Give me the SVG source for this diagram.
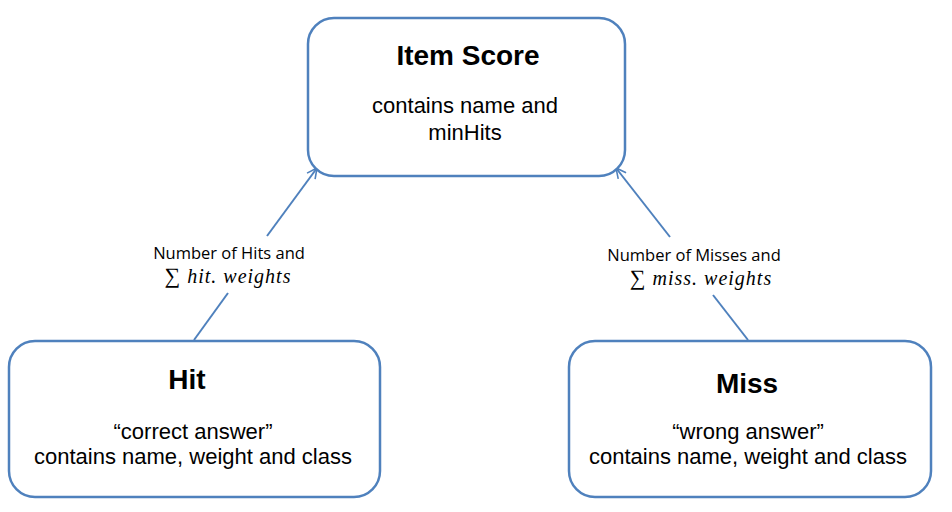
<svg xmlns="http://www.w3.org/2000/svg" width="952" height="512" viewBox="0 0 952 512">
<defs>
<marker id="arr" viewBox="0 0 12 12" refX="11" refY="6" markerWidth="12" markerHeight="12" markerUnits="userSpaceOnUse" orient="auto">
<path d="M1,1 L11,6 L1,11" fill="none" stroke="#4f81bd" stroke-width="1.6"/>
</marker>
<style>
.box{fill:#fff;stroke:#4f81bd;stroke-width:2.5}
.t{font-family:"Liberation Sans",Arial,sans-serif;font-weight:bold;font-size:28px;text-anchor:middle;fill:#000}
.b{font-family:"Liberation Sans",Arial,sans-serif;font-size:22px;text-anchor:middle;fill:#000}
.l{font-family:"Open Sans","Liberation Sans",sans-serif;font-size:16.5px;text-anchor:middle;fill:#000}
.m{font-family:"Liberation Serif","DejaVu Serif",serif;font-style:italic;font-size:20px;text-anchor:middle;fill:#000;letter-spacing:1px}
.c{stroke:#4f81bd;stroke-width:2;fill:none}
</style>
</defs>
<g id="connectors">
<line class="c" x1="194" y1="340" x2="228" y2="293"/>
<line class="c" x1="267" y1="236" x2="317" y2="168" marker-end="url(#arr)"/>
<line class="c" x1="748" y1="340" x2="713" y2="295"/>
<line class="c" x1="670" y1="237" x2="616" y2="168" marker-end="url(#arr)"/>
<text class="l" x="229" y="259">Number of Hits and</text>
<text class="m" x="228" y="283"><tspan font-style="normal" font-size="22">∑</tspan> hit. weights</text>
<text class="l" x="694" y="261">Number of Misses and</text>
<text class="m" x="701" y="285"><tspan font-style="normal" font-size="22">∑</tspan> miss. weights</text>
</g>
<g id="item-score">
<rect class="box" x="308" y="18" width="317" height="158" rx="26"/>
<text class="t" x="468" y="65">Item Score</text>
<text class="b" x="465" y="113">contains name and</text>
<text class="b" x="465" y="140">minHits</text>
</g>
<g id="hit">
<rect class="box" x="9" y="341" width="371" height="156" rx="26"/>
<text class="t" x="187" y="389">Hit</text>
<text class="b" x="193" y="439">“correct answer”</text>
<text class="b" x="193" y="464">contains name, weight and class</text>
</g>
<g id="miss">
<rect class="box" x="569" y="341" width="362" height="156" rx="26"/>
<text class="t" x="747" y="393">Miss</text>
<text class="b" x="748" y="439">“wrong answer”</text>
<text class="b" x="748" y="464">contains name, weight and class</text>
</g>
</svg>
